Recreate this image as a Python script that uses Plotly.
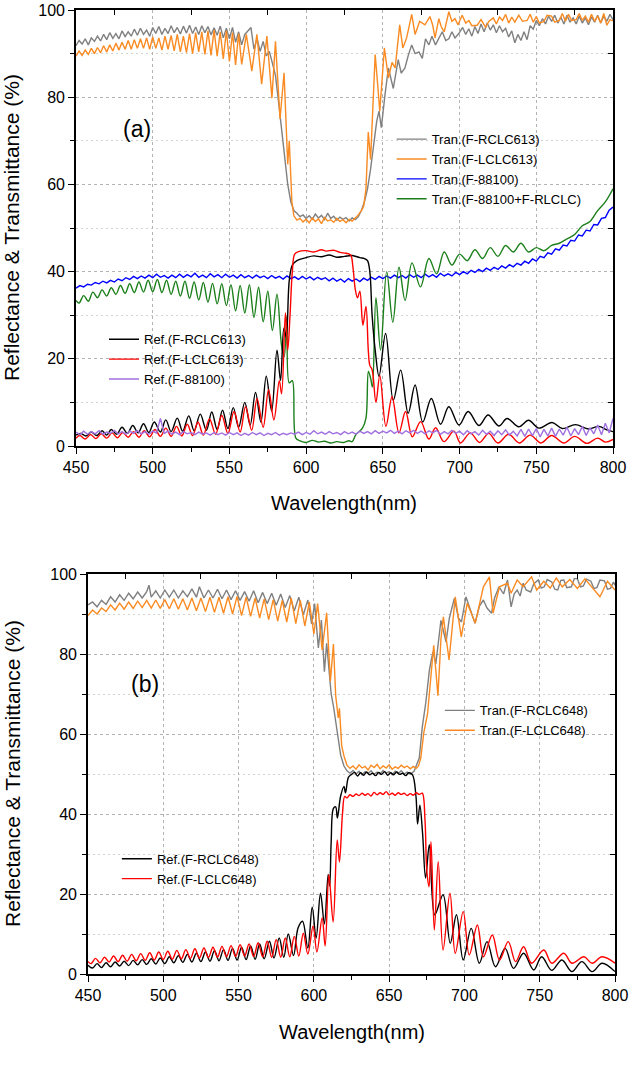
import plotly.graph_objects as go

# ------------------------------------------------------------------ data
# (a) transmittance, F-RCLC613 (gray)
T_RCLC613 = [(450,91.8),(452,93.0),(454,92.2),(456,93.4),(458,92.0),(460,93.6),(462,92.8),(464,94.0),(466,92.9),(468,94.4),(470,93.2),(472,94.8),(474,93.5),(476,94.6),(478,93.4),(480,95.2),(482,93.9),(484,95.0),(486,94.0),(488,95.6),(490,94.2),(492,95.8),(494,94.4),(496,95.4),(498,94.0),(500,96.0),(502,94.6),(504,96.2),(506,94.4),(508,95.8),(510,94.6),(512,96.4),(514,94.8),(516,96.0),(518,94.5),(520,96.3),(522,94.7),(524,96.5),(526,94.6),(528,96.1),(530,94.4),(532,96.4),(534,94.8),(536,96.2),(538,94.3),(540,95.9),(542,94.2),(544,96.3),(546,93.6),(548,95.8),(550,93.4),(552,96.0),(554,92.6),(556,95.0),(558,92.0),(560,94.4),(562,95.2),(564,96.0),(566,91.0),(568,93.5),(570,90.5),(572,92.8),(574,89.5),(576,90.5),(578,87.8),(580,85.0),(582,79.0),(584,73.0),(586,66.0),(588,60.0),(590,56.0),(592,54.0),(594,53.4),(596,52.6),(598,53.0),(600,52.2),(602,52.8),(604,52.0),(606,53.2),(608,52.3),(610,52.9),(612,51.9),(614,53.4),(616,52.2),(618,52.7),(620,51.8),(622,52.5),(624,52.0),(626,52.4),(628,51.6),(630,52.3),(632,51.9),(634,52.6),(636,54.0),(638,56.0),(640,59.0),(642,63.5),(644,69.0),(646,74.5),(647.5,76.8),(649,73.0),(651.4,80.6),(653.6,86.7),(656.8,82.0),(660,88.6),(662,85.5),(664.4,86.7),(666.5,89.5),(668.8,92.0),(671,90.0),(673.5,90.4),(675.7,88.9),(677.8,93.4),(680,92.0),(682,94.0),(684.3,92.0),(686.5,93.5),(688.7,95.0),(691,93.0),(693,93.4),(695,95.0),(697,93.6),(699.5,94.6),(702,96.0),(704,94.4),(706,95.7),(708,94.0),(710,96.2),(712,94.6),(714,96.8),(716,95.0),(718,97.0),(720,95.4),(722,96.6),(724,94.8),(726,96.4),(728,95.0),(730,95.8),(732,93.8),(734,95.2),(736,92.5),(738,94.4),(740,93.0),(742,95.0),(744,93.2),(746,96.4),(748,95.6),(750,97.6),(752,96.4),(754,98.0),(756,96.8),(758,98.6),(760,97.4),(762,98.8),(764,97.0),(766,98.4),(768,96.8),(770,98.8),(772,97.2),(774,98.2),(776,96.8),(778,98.6),(780,97.0),(782,98.2),(784,96.6),(786,98.4),(788,97.2),(790,98.8),(792,97.0),(794,98.6),(796,97.4),(798,99.0),(800,97.8)]

# (a) transmittance, F-LCLC613 (orange)
T_LCLC613 = [(450,89.4),(452,90.6),(454,89.6),(456,90.8),(458,89.8),(460,91.2),(462,90.0),(464,91.4),(466,90.2),(468,91.8),(470,90.4),(472,92.0),(474,90.6),(476,92.4),(478,90.8),(480,92.6),(482,91.0),(484,93.0),(486,91.0),(488,93.2),(490,91.2),(492,93.4),(494,91.2),(496,93.6),(498,91.0),(500,93.8),(502,91.2),(504,93.6),(506,90.8),(508,94.0),(510,91.0),(512,94.2),(514,90.6),(516,94.4),(518,90.4),(520,94.0),(522,90.2),(524,94.6),(526,90.0),(528,94.8),(530,90.4),(532,95.0),(534,89.8),(536,95.2),(538,89.6),(540,95.4),(542,89.4),(544,95.0),(546,88.8),(548,95.2),(550,88.2),(552,94.8),(554,87.4),(556,94.6),(558,87.5),(561,94.4),(564.6,86.0),(567.9,94.4),(571,83.0),(574.4,94.0),(577.7,79.8),(580,92.8),(583,75.0),(585.6,85.6),(588,64.6),(589,70.0),(590.7,56.0),(592,52.8),(594,51.8),(596,52.2),(598,51.4),(600,52.0),(602,51.2),(604,52.3),(606,51.5),(608,52.1),(610,51.0),(612,52.4),(614,51.6),(616,51.9),(618,51.3),(620,52.2),(622,51.5),(624,51.9),(626,51.2),(628,52.0),(630,51.6),(632,52.3),(634,53.0),(636,54.0),(637.5,55.0),(639,59.0),(640.5,72.0),(642,65.7),(643.8,79.0),(645,89.8),(646.6,83.0),(648,76.8),(651,91.3),(653.6,84.4),(656,88.0),(658,86.7),(661,96.6),(663,91.3),(665.5,93.6),(668.8,99.0),(671,94.4),(674,97.4),(677.4,96.6),(680.7,98.5),(682.5,96.5),(684,93.6),(686.5,98.0),(688,96.2),(690,95.0),(693,99.6),(695,97.4),(697,98.0),(699,96.6),(701.7,98.8),(704,97.0),(706,97.6),(708,96.4),(711.5,96.5),(714,97.8),(717,96.0),(719,97.4),(722,98.2),(724,96.8),(726,98.4),(728,97.6),(730,99.0),(732,97.0),(734,98.4),(736,97.2),(738.6,98.8),(741,97.4),(744,97.6),(746,99.0),(748,97.2),(750,98.5),(752,97.0),(755,97.4),(757,98.8),(760,98.6),(762,97.2),(765,97.6),(767,99.2),(769,97.4),(771,99.0),(773,97.6),(776,97.8),(778,99.2),(780,97.6),(782,98.6),(784,97.2),(786,99.0),(788,97.4),(790,98.6),(792,97.0),(794,99.2),(796,96.5),(798,97.8),(800,97.5)]

# (a) transmittance, F-88100 (blue)
T_88100 = [(450,36.2),(452.5,36.8),(455,36.5),(457.5,37.1),(460,36.9),(462.5,37.5),(465,37.2),(467.5,37.8),(470,37.4),(472.5,38.0),(475,37.6),(477.5,38.3),(480,37.9),(482.5,38.6),(485,38.2),(487.5,38.9),(490,38.4),(492.5,39.0),(495,38.5),(497.5,39.2),(500,38.6),(502.5,39.4),(505,38.7),(507.5,39.1),(510,38.5),(512.5,39.2),(515,38.6),(517.5,39.4),(520,38.7),(522.5,39.3),(525,38.8),(527.5,39.6),(530,38.7),(532.5,39.2),(535,38.6),(537.5,39.5),(540,38.8),(542.5,39.3),(545,38.6),(547.5,39.4),(550,38.7),(552.5,39.2),(555,38.5),(557.5,39.3),(560,38.6),(562.5,39.1),(565,38.5),(567.5,39.2),(570,38.6),(572.5,39.0),(575,38.4),(577.5,39.1),(580,38.5),(582.5,38.9),(585,38.3),(587.5,39.0),(590,38.4),(592.5,38.8),(595,38.2),(597.5,38.9),(600,38.3),(602.5,38.8),(605,38.1),(607.5,38.7),(610,38.2),(612.5,38.6),(615,37.9),(617.5,38.5),(620,37.8),(622.5,38.3),(625,37.6),(627.5,38.4),(630,37.8),(632.5,38.3),(635,37.7),(637.5,38.5),(640,38.0),(642.5,38.7),(645,38.2),(647.5,38.9),(650,38.4),(652.5,39.0),(655,38.5),(657.5,39.2),(660,38.6),(662.5,39.1),(665,38.5),(667.5,39.3),(670,38.7),(672.5,39.2),(675,38.6),(677.5,39.4),(680,38.8),(682.5,39.3),(685,38.7),(687.5,39.6),(690,39.0),(692.5,39.5),(695,39.0),(697.5,39.8),(700,39.3),(702.5,40.0),(705,39.5),(707.5,40.3),(710,39.8),(712.5,40.5),(715,40.0),(717.5,40.8),(720,40.3),(722.5,41.0),(725,40.5),(727.5,41.3),(730,40.8),(732.5,41.6),(735,41.1),(737.5,41.9),(740,41.5),(742.5,42.4),(745,41.9),(747.5,42.9),(750,42.4),(752.5,43.5),(755,43.2),(757.5,44.3),(760,44.0),(762.5,45.2),(765,44.9),(767.5,46.1),(770,45.9),(772.5,47.2),(775,47.0),(777.5,48.4),(780,48.2),(782.5,49.5),(785,49.3),(787.5,50.8),(790,50.7),(792.5,52.2),(795,52.4),(797.5,54.1),(800,54.8)]

# (a) transmittance, F-88100 + F-RLCLC (green)
T_88100_RLCLC = [(450,33.4),(452,32.8),(455,34.5),(458,33.2),(461,35.3),(464,34.0),(467,35.8),(470,34.4),(473,36.3),(476,34.8),(479,36.8),(482,35.0),(485,37.2),(488,35.2),(491,37.6),(494,35.3),(497,38.0),(500,35.4),(503,38.2),(506,35.2),(509,38.0),(512,34.8),(515,37.8),(518,34.4),(521,37.8),(524,33.9),(527,37.6),(530,33.5),(533,37.5),(536,33.0),(539,37.3),(542,32.6),(545,37.2),(548,32.2),(551,37.0),(554,31.0),(557,36.8),(560,30.5),(563,37.0),(566,29.5),(569,36.4),(572,28.5),(575,35.5),(578,26.5),(581,34.8),(584,23.0),(585.7,20.5),(587.5,29.8),(589,14.5),(591,15.0),(593.3,1.8),(596,1.2),(600,0.8),(604,1.3),(608,0.9),(612,1.1),(616,0.7),(620,1.0),(624,0.8),(628,1.2),(630,1.0),(632.4,2.6),(636.7,4.1),(639,6.4),(640.6,17.1),(642,15.6),(643.2,13.5),(645.5,34.0),(648.5,22.0),(652.5,40.0),(656.5,28.4),(660.5,41.0),(664.5,33.4),(669,42.0),(674.5,36.5),(680,43.0),(685,39.5),(690,44.5),(695,41.5),(700,44.0),(705,42.5),(710,45.0),(715,43.0),(720,45.5),(725,43.5),(730,46.0),(735,44.5),(740,46.5),(745,44.5),(750,45.5),(755,44.8),(760,46.0),(765,46.5),(770,47.5),(775,48.5),(780,50.5),(785,51.5),(790,54.0),(795,56.0),(800,59.0)]

# (a) reflectance, F-RCLC613 (black)
R_RCLC613 = [(450,2.5),(453,2.9),(456.5,2.3),(460,3.2),(463.5,2.4),(467,3.5),(470,2.5),(473,3.8),(476.5,2.7),(480,4.3),(483.5,2.9),(487,4.7),(490.5,3.0),(494,5.1),(497.5,3.1),(501,5.5),(505,3.2),(508.5,6.0),(512,3.3),(516,6.4),(519.5,3.4),(523.5,6.9),(527,3.5),(531,7.3),(535,3.6),(538.5,7.8),(542,3.8),(545.5,8.2),(549,4.0),(552.5,8.8),(556,4.3),(560,10.0),(563.5,4.8),(567,12.3),(570.5,5.5),(574,16.0),(577.5,8.0),(581,22.0),(583.3,15.0),(585.5,27.0),(587,25.0),(589,38.0),(591,41.5),(594,42.5),(600,43.2),(605,43.6),(610,43.4),(615,43.8),(620,43.3),(625,43.5),(630,43.7),(635,43.2),(638,43.0),(640,42.5),(641.5,40.0),(643,30.0),(645,22.0),(647.5,16.0),(651.8,25.8),(656.8,10.5),(661.6,17.4),(666.5,7.5),(671,14.0),(676,5.5),(681.6,10.9),(687.6,5.0),(693,9.0),(699.6,4.8),(705.6,7.9),(712.6,4.7),(718.6,7.1),(725.6,4.6),(731,6.3),(738.6,4.4),(745,5.9),(751.6,4.1),(760.3,5.4),(767,4.0),(775.5,4.9),(784,3.9),(790.7,4.5),(796,3.7),(800,3.3)]

# (a) reflectance, F-LCLC613 (red)
R_LCLC613 = [(450,1.8),(452.5,2.4),(456,1.6),(459.5,2.6),(463,1.7),(466.5,2.8),(470,1.8),(473.5,3.0),(477,1.9),(480.5,3.1),(484,2.0),(487.5,3.3),(491,2.0),(494.5,3.5),(498,2.1),(501.5,3.8),(505,2.2),(508.5,4.1),(512,2.2),(515.5,4.5),(519,2.3),(522.5,5.0),(526,2.4),(529.5,5.5),(533,2.5),(537,6.2),(541,2.7),(545,7.0),(549,2.9),(553,7.9),(557,3.2),(560.5,9.0),(564.5,3.6),(568,10.9),(572,4.3),(575.5,12.9),(579,6.0),(582.5,15.0),(584,12.0),(586.5,30.5),(588,22.0),(589.5,30.0),(591,40.0),(592.5,44.0),(595,44.6),(600,44.8),(605,44.5),(610,45.0),(613,44.7),(618,44.9),(622,44.4),(626,44.2),(629,43.8),(630.5,41.0),(632,36.0),(633.5,34.0),(635,35.5),(637,27.7),(639,32.0),(640.5,22.0),(641.5,18.5),(643,17.5),(645.5,10.0),(648,16.2),(652,4.5),(656,11.3),(660.5,3.0),(664.8,7.9),(669.2,2.1),(674.6,5.6),(680,1.6),(684.4,4.2),(689.8,1.0),(696.3,3.4),(700.6,0.7),(707,3.0),(713,0.8),(719,2.9),(725,0.7),(732,2.7),(739,0.7),(746,2.5),(753,0.7),(760,2.4),(768,0.7),(775,2.2),(783,0.6),(790,1.8),(795,0.9),(800,1.5)]

# (a) reflectance, F-88100 (purple)
R_88100 = [(450,3.2),(452.5,2.6),(455,3.4),(457.5,2.7),(460,3.3),(462.5,2.8),(465,3.5),(467.5,2.7),(470,3.2),(472.5,2.9),(475,3.6),(477.5,2.8),(480,3.3),(482.5,2.7),(485,3.4),(487.5,2.9),(490,3.5),(492.5,2.8),(495,3.3),(497.5,2.7),(500,3.4),(502.5,3.0),(505,6.3),(507.5,2.9),(510,3.4),(512.5,2.7),(515,3.2),(517.5,2.6),(520,3.3),(522.5,2.8),(525,3.1),(527.5,2.6),(530,3.2),(532.5,2.7),(535,3.0),(537.5,2.5),(540,3.1),(542.5,2.6),(545,3.0),(547.5,2.5),(550,3.1),(552.5,2.6),(555,3.0),(557.5,2.4),(560,2.9),(562.5,2.5),(565,3.1),(567.5,2.6),(570,3.0),(572.5,2.4),(575,2.9),(577.5,2.6),(580,3.1),(582.5,2.5),(585,2.9),(587.5,2.6),(590,3.0),(592.5,2.7),(595,3.2),(597.5,2.6),(600,3.1),(602.5,2.7),(605,3.5),(607.5,2.8),(610,3.2),(612.5,2.7),(615,3.3),(617.5,2.8),(620,3.1),(622.5,2.6),(625,3.3),(627.5,2.8),(630,3.2),(632.5,2.7),(635,3.4),(637.5,2.9),(640,3.3),(642.5,2.8),(645,3.5),(647.5,2.9),(650,3.4),(652.5,3.0),(655,3.6),(657.5,2.9),(660,3.4),(662.5,2.8),(665,3.5),(667.5,3.0),(670,3.6),(672.5,2.9),(675,3.4),(677.5,2.8),(680,3.5),(682.5,3.0),(685,3.6),(687.5,2.7),(690,3.3),(692.5,2.8),(695,3.6),(697.5,2.9),(700,3.4),(702.5,2.6),(705,3.5),(707.5,2.8),(710,3.3),(712.5,2.5),(715,3.6),(717.5,2.7),(720,3.4),(722.5,2.4),(725,3.5),(727.5,2.6),(730,3.7),(732.5,2.5),(735,3.4),(737.5,2.3),(740,3.8),(742.5,2.2),(745,3.9),(747.5,2.4),(750,4.0),(752.5,2.1),(755,3.8),(757.5,2.3),(760,4.1),(762.5,2.2),(765,3.9),(767.5,2.5),(770,4.3),(772.5,2.3),(775,4.0),(777.5,2.6),(780,4.5),(782.5,2.4),(785,4.2),(787.5,2.8),(790,4.8),(792.5,2.6),(795,5.2),(797.5,3.0),(800,6.3)]

# (b) transmittance, F-RCLC648 (gray)
T_RCLC648 = [(450,92.3),(453,93.0),(456,91.8),(459,93.4),(462,92.4),(465,94.3),(468,93.0),(471,94.8),(474,93.4),(477,95.2),(480,93.8),(483,95.5),(486,94.0),(489,95.6),(490.5,97.2),(492,94.2),(495,95.8),(498,94.0),(501,96.0),(504,94.2),(507,96.0),(510,94.0),(513,95.8),(516,94.3),(519,96.3),(522,94.2),(524,96.8),(527,94.0),(530,96.0),(533,94.0),(536,96.2),(539,93.8),(542,96.0),(545,93.6),(548,95.8),(551,93.4),(554,95.6),(557,93.2),(560,95.8),(563,92.8),(566,95.4),(569,92.6),(572,95.2),(575,92.2),(578,95.0),(581,91.6),(584,94.6),(587,90.8),(590,94.2),(593,89.8),(596,93.5),(598.5,87.5),(600.5,92.6),(603,81.5),(605,88.5),(607,75.6),(608.5,82.7),(610,76.0),(611.5,70.0),(613,67.0),(615.6,60.0),(617.8,54.7),(620,52.0),(622,50.8),(624,50.2),(626,50.9),(628,50.0),(630,50.7),(632,49.8),(634,50.6),(636,50.1),(638,50.8),(640,49.9),(642,50.5),(644,50.0),(646,50.9),(648,50.2),(650,50.6),(652,49.8),(654,50.7),(656,50.1),(658,50.8),(660,50.0),(662,50.5),(664.4,49.9),(666.7,50.8),(670,54.0),(672,61.7),(674.4,68.0),(676.7,75.9),(678,78.5),(679.2,80.6),(681,77.5),(684.4,88.4),(687.8,83.0),(690,89.0),(693.3,93.9),(696,89.0),(698,88.0),(701,94.3),(704,91.0),(707,87.7),(710,92.0),(712.6,93.5),(715,91.5),(718,90.2),(720,94.0),(723,96.8),(726,95.0),(728.6,98.5),(731,91.8),(733,95.0),(735,96.0),(737,94.5),(739,97.7),(741,96.0),(744,95.5),(746,97.5),(749,98.5),(751,96.5),(753,96.8),(755,98.6),(758,98.0),(760,96.2),(762,96.0),(764,98.4),(766,98.5),(768,96.6),(771,96.8),(773,98.9),(775,98.8),(777,96.8),(779,97.0),(781,98.7),(784,98.2),(786,96.4),(788,96.6),(790,98.5),(793,98.3),(795,96.2),(797,96.4),(799,98.0),(800,97.2)]

# (b) transmittance, F-LCLC648 (orange)
T_LCLC648 = [(450,89.6),(453,91.0),(456,90.0),(459,91.5),(462,90.6),(465,92.3),(468,91.0),(471,92.7),(474,91.2),(477,93.0),(480,91.4),(483,93.2),(486,91.6),(489,93.4),(492,91.5),(495,93.5),(498,91.4),(501,93.6),(504,91.3),(507,93.8),(510,91.2),(513,93.8),(516,91.0),(519,94.0),(522,90.8),(525,94.0),(528,90.6),(531,94.2),(534,90.4),(537,94.2),(540,90.2),(543,94.3),(546,90.0),(549,94.4),(552,89.6),(555,94.2),(558,89.4),(561,94.0),(564,89.0),(567,93.8),(570,88.6),(573,93.6),(576,88.2),(579,93.4),(582,88.0),(585,94.0),(588,87.6),(591,93.4),(594,87.0),(597,93.0),(600,85.0),(602.5,92.6),(605.5,81.0),(608.5,90.3),(611,73.2),(613,82.5),(614.5,69.6),(616.2,64.0),(617,66.4),(618.5,57.0),(620,54.5),(622,52.2),(624,51.4),(626,52.0),(628,51.2),(630,52.3),(632,51.5),(634,51.9),(636,51.0),(638,52.2),(640,51.6),(642,52.4),(644,51.3),(646,52.0),(648,51.5),(650,52.3),(652,51.2),(654,51.8),(656,51.4),(658,52.2),(660,51.6),(662,52.0),(664,51.3),(666,51.9),(668,51.4),(669.5,52.0),(671,54.0),(673,60.3),(675.5,65.0),(677.8,75.6),(679.6,82.2),(682.4,69.6),(684.4,83.7),(686,89.3),(689.8,78.5),(693.9,94.3),(697.9,84.3),(701.9,92.7),(707.2,87.7),(712.6,96.8),(716.6,99.3),(719,90.2),(723.3,96.8),(728.6,97.7),(731,95.2),(735,98.5),(739,96.8),(744.6,99.3),(748,96.0),(752.7,98.2),(757,96.5),(761,99.0),(765,96.8),(770,98.6),(775,96.4),(780,98.8),(785,96.6),(790,94.3),(795,98.2),(800,96.0)]

# (b) reflectance, F-RCLC648 (black)
R_RCLC648 = [(450,2.2),(453,1.5),(456,2.6),(459,1.6),(462,2.8),(465,1.8),(468,3.0),(471,2.0),(474,3.2),(477,2.1),(480,3.4),(483,2.3),(486,3.6),(489,2.4),(492,3.8),(495,2.5),(498,4.0),(501,2.6),(504,4.3),(507,2.8),(510,4.6),(513,2.9),(516,4.9),(519,3.0),(522,5.2),(525,3.1),(528,5.5),(531,3.2),(534,5.8),(537,3.3),(540,6.1),(543,3.4),(546,6.4),(549,3.5),(552,6.7),(555,3.6),(558,7.0),(561,3.7),(564,7.5),(567,3.8),(570.5,8.2),(573.5,4.0),(577,9.0),(580,4.2),(583,10.0),(586.5,4.6),(589.5,11.5),(592.5,13.2),(596,6.5),(598.9,16.7),(601.5,9.0),(604.4,20.2),(607,12.5),(609.5,24.9),(610.5,22.0),(611.5,33.0),(613,41.4),(614.5,41.8),(615.6,39.0),(617.8,44.5),(620,46.9),(621,45.3),(623,49.2),(625,49.9),(627,50.4),(629,49.5),(631,50.3),(633,49.7),(635,50.5),(637,49.8),(639,50.2),(641,49.6),(643,50.4),(645,49.9),(647,50.6),(649,49.7),(651,50.3),(653,49.8),(655,50.5),(657,49.9),(659,50.2),(661,49.6),(663,50.3),(665.5,49.8),(667.8,44.5),(668.9,37.5),(670.4,42.2),(672.2,35.2),(674.2,24.0),(676.7,32.3),(680.3,14.8),(685.8,19.8),(690.6,7.7),(694.7,14.8),(699.2,3.5),(704.5,11.4),(709.9,2.7),(715,8.1),(720.6,1.8),(727,6.4),(732.6,1.4),(739.3,5.2),(746,1.0),(751.3,4.3),(758,0.9),(764.7,3.5),(771.4,0.6),(778,3.1),(784.8,0.6),(791.4,2.7),(800,0.6)]

# (b) reflectance, F-LCLC648 (red)
R_LCLC648 = [(450,3.1),(452,2.6),(455,3.9),(458,2.8),(461,4.2),(464,3.0),(467,4.5),(470,3.1),(473,4.7),(476,3.2),(479,4.9),(482,3.3),(485,5.1),(488,3.4),(491,5.3),(494,3.5),(497,5.5),(500,3.6),(503,5.7),(506,3.7),(509,5.9),(512,3.8),(515,6.1),(518,3.9),(521,6.3),(524,4.0),(527,6.5),(530,4.1),(533,6.7),(536,4.2),(539,6.9),(542,4.3),(545,7.1),(548,4.4),(551,7.3),(554,4.5),(557,7.5),(560,4.4),(563,7.8),(566,4.3),(569,8.2),(572,4.2),(575,8.6),(578,4.2),(581,9.0),(584,4.3),(587,9.4),(590,4.5),(593,10.2),(596,5.0),(599.5,12.0),(602,5.5),(605.5,14.0),(607.5,7.0),(610,24.8),(612.8,13.0),(615.5,33.5),(617,28.0),(619,40.0),(620.5,44.4),(622,44.0),(624,44.8),(626,44.4),(628,45.0),(630,44.6),(632,45.2),(634,44.7),(636,45.1),(638,44.5),(640,45.4),(642,44.8),(644,45.3),(646,44.9),(648,45.6),(650,44.8),(652,45.2),(654,44.7),(656,45.3),(658,44.9),(660,45.2),(662,44.6),(664,45.1),(666,44.7),(668,45.3),(670,44.9),(672,45.2),(673.8,38.5),(675,26.0),(676.5,21.8),(677.8,33.1),(680,11.0),(682.6,28.1),(685.8,6.0),(690.4,20.2),(693.9,5.2),(699.2,15.6),(703.2,4.75),(708.6,12.25),(712.6,4.3),(718.5,9.75),(723.3,3.5),(729.1,8.1),(734,3.1),(739.3,6.8),(744.6,2.7),(752.7,6.0),(758,2.7),(766,5.2),(771.4,2.7),(779.4,4.3),(784.8,2.7),(791.4,4.3),(800,2.7)]

X_TICKS = [450, 500, 550, 600, 650, 700, 750, 800]
X_MINOR = [475, 525, 575, 625, 675, 725, 775]
Y_TICKS = [0, 20, 40, 60, 80, 100]
Y_MINOR = [10, 30, 50, 70, 90]

# ------------------------------------------------------------------ layout helpers
W, H = 630, 1075
TOP = dict(l=76, r=613, t=10, b=446)
BOT = dict(l=88, r=615, t=574, b=974)

GRAY, ORANGE, BLUE, GREEN = "#808080", "#F98B22", "#0000FF", "#1B7F1B"
BLACK, RED, PURPLE = "#000000", "#FF0000", "#A070E0"
FONT = "Arial, Liberation Sans, sans-serif"

fig = go.Figure()


def add(series, name, color, xa, ya, legend, shape="linear", width=1.4):
    xs = [p[0] for p in series]
    ys = [p[1] for p in series]
    line = dict(color=color, width=width, shape=shape)
    if shape == "spline":
        line["smoothing"] = 1.0
    fig.add_trace(go.Scatter(x=xs, y=ys, name=name, mode="lines", line=line,
                             xaxis=xa, yaxis=ya, legend=legend, hoverinfo="skip"))


# panel (a)
add(T_RCLC613, "Tran.(F-RCLC613)", GRAY, "x", "y", "legend")
add(T_LCLC613, "Tran.(F-LCLC613)", ORANGE, "x", "y", "legend")
add(T_88100, "Tran.(F-88100)", BLUE, "x", "y", "legend")
add(T_88100_RLCLC, "Tran.(F-88100+F-RLCLC)", GREEN, "x", "y", "legend", shape="spline")
add(R_RCLC613, "Ref.(F-RCLC613)", BLACK, "x", "y", "legend2", shape="spline")
add(R_LCLC613, "Ref.(F-LCLC613)", RED, "x", "y", "legend2", shape="spline")
add(R_88100, "Ref.(F-88100)", PURPLE, "x", "y", "legend2")
# panel (b)
add(T_RCLC648, "Tran.(F-RCLC648)", GRAY, "x2", "y2", "legend3")
add(T_LCLC648, "Tran.(F-LCLC648)", ORANGE, "x2", "y2", "legend3")
add(R_RCLC648, "Ref.(F-RCLC648)", BLACK, "x2", "y2", "legend4", shape="spline")
add(R_LCLC648, "Ref.(F-LCLC648)", RED, "x2", "y2", "legend4", shape="spline")

# invisible helpers so the inward mirror-tick axes get drawn
for xa, ya in (("x3", "y3"), ("x4", "y4")):
    fig.add_trace(go.Scatter(x=[450], y=[-50], mode="markers", marker=dict(opacity=0),
                             xaxis=xa, yaxis=ya, showlegend=False, hoverinfo="skip"))


def xdom(b):
    return [b["l"] / W, b["r"] / W]


def ydom(b):
    return [1 - b["b"] / H, 1 - b["t"] / H]


tickfont = dict(family=FONT, size=16, color="black")
MAJOR_GRID = dict(showgrid=True, gridcolor="#b3b3b3", griddash="3px,3px", gridwidth=1)


def xaxis(b, anchor):
    return dict(domain=xdom(b), anchor=anchor, range=[450, 800], tickvals=X_TICKS,
                ticks="outside", ticklen=6, tickwidth=1.3, tickcolor="black",
                minor=dict(tickvals=X_MINOR, ticks="outside", ticklen=4, tickwidth=1.2,
                           tickcolor="black", showgrid=False),
                showline=True, linecolor="black", linewidth=1.6, mirror=True,
                zeroline=False, tickfont=tickfont, automargin=False, **MAJOR_GRID)


def yaxis(b, anchor):
    return dict(domain=ydom(b), anchor=anchor, range=[0, 100], tickvals=Y_TICKS,
                ticks="outside", ticklen=6, tickwidth=1.3, tickcolor="black",
                minor=dict(tickvals=Y_MINOR, ticks="outside", ticklen=4, tickwidth=1.2,
                           tickcolor="black", showgrid=True, gridcolor="#d2d2d2",
                           griddash="2px,3px", gridwidth=1),
                showline=True, linecolor="black", linewidth=1.6, mirror=True,
                zeroline=False, tickfont=tickfont, automargin=False, **MAJOR_GRID)


def mirror_x(base, anchor):
    return dict(overlaying=base, anchor=anchor, side="top", range=[450, 800],
                tickvals=X_MINOR, ticks="inside", ticklen=5, tickwidth=1.2,
                tickcolor="black", showticklabels=False, showgrid=False,
                showline=False, zeroline=False, automargin=False)


def mirror_y(base, anchor):
    return dict(overlaying=base, anchor=anchor, side="right", range=[0, 100],
                tickvals=Y_MINOR, ticks="inside", ticklen=5, tickwidth=1.2,
                tickcolor="black", showticklabels=False, showgrid=False,
                showline=False, zeroline=False, automargin=False)


def to_paper(b, wl, val):
    px = b["l"] + (wl - 450) / 350 * (b["r"] - b["l"])
    py = b["b"] - val / 100 * (b["b"] - b["t"])
    return px / W, 1 - py / H


def legend_at(b, wl, val):
    xp, yp = to_paper(b, wl, val)
    return dict(x=xp - 5 / W, y=yp + 11 / H, xanchor="left", yanchor="top",
                bgcolor="rgba(0,0,0,0)", borderwidth=0, tracegroupgap=0,
                itemwidth=30, font=dict(family=FONT, size=13, color="black"))


def titles(b, x_title_px, y_title_px):
    yc = 1 - (b["t"] + b["b"]) / 2 / H
    xc = (b["l"] + b["r"]) / 2 / W
    return [
        dict(text="Wavelength(nm)", x=xc, y=1 - x_title_px / H, xref="paper", yref="paper",
             xanchor="center", yanchor="middle", showarrow=False,
             font=dict(family=FONT, size=20, color="black")),
        dict(text="Reflectance & Transmittance (%)", x=y_title_px / W, y=yc,
             xref="paper", yref="paper", xanchor="center", yanchor="middle",
             textangle=-90, showarrow=False,
             font=dict(family=FONT, size=21, color="black")),
    ]


annotations = titles(TOP, 503, 12) + titles(BOT, 1032, 12) + [
    dict(text="(a)", x=490, y=72.7, xref="x", yref="y", showarrow=False,
         font=dict(family=FONT, size=23, color="black")),
    dict(text="(b)", x=488, y=72.5, xref="x2", yref="y2", showarrow=False,
         font=dict(family=FONT, size=23, color="black")),
]

fig.update_layout(
    width=W, height=H, margin=dict(l=0, r=0, t=0, b=0, autoexpand=False),
    paper_bgcolor="white", plot_bgcolor="white", showlegend=True,
    xaxis=xaxis(TOP, "y"), yaxis=yaxis(TOP, "x"),
    xaxis2=xaxis(BOT, "y2"), yaxis2=yaxis(BOT, "x2"),
    xaxis3=mirror_x("x", "y"), yaxis3=mirror_y("y", "x"),
    xaxis4=mirror_x("x2", "y2"), yaxis4=mirror_y("y2", "x2"),
    legend=legend_at(TOP, 659, 71.3),
    legend2=legend_at(TOP, 471.5, 25.4),
    legend3=legend_at(BOT, 687, 66.9),
    legend4=legend_at(BOT, 472.5, 29.8),
    annotations=annotations,
)

fig.write_html("out.html")
